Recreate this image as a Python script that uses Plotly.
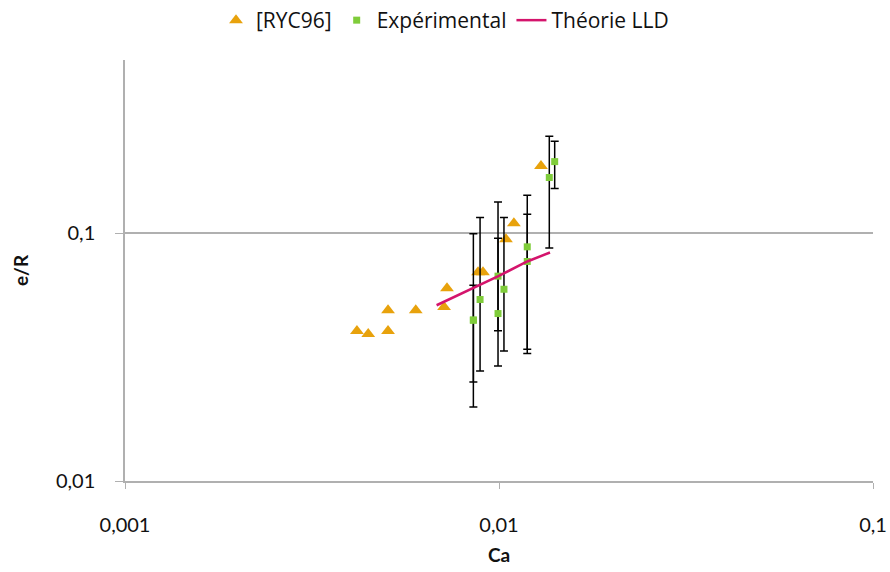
import plotly.graph_objects as go

# [RYC96] data
ryc_ca = [0.00417, 0.00447, 0.00505, 0.00505, 0.00599, 0.00713, 0.00726,
          0.00879, 0.00906, 0.01044, 0.01096, 0.01295]
ryc_er = [0.0403, 0.0392, 0.0489, 0.0403, 0.0489, 0.0504, 0.0600,
          0.0696, 0.0696, 0.0946, 0.1097, 0.1867]

# experimental points with error bar ends (low / high)
exp_ca = [0.00854, 0.00854, 0.00890, 0.00994, 0.00994, 0.01031,
          0.01190, 0.01190, 0.01363, 0.01409]
exp_er = [0.0446, 0.0446, 0.0540, 0.0671, 0.0474, 0.0594,
          0.0881, 0.0769, 0.1678, 0.1945]
exp_lo = [0.0199, 0.0251, 0.0278, 0.0291, 0.0404, 0.0335,
          0.0327, 0.0340, 0.0872, 0.1514]
exp_hi = [0.0994, 0.0617, 0.1157, 0.1337, 0.0954, 0.1157,
          0.1423, 0.1193, 0.2460, 0.2350]

# LLD theory curve
lld_ca = [0.00681, 0.00870, 0.00996, 0.01190, 0.01369]
lld_er = [0.0512, 0.0608, 0.0671, 0.0769, 0.0836]

err_plus = [h - v for h, v in zip(exp_hi, exp_er)]
err_minus = [v - l for v, l in zip(exp_er, exp_lo)]

fig = go.Figure()
fig.add_trace(go.Scatter(
    x=ryc_ca, y=ryc_er, mode="markers", name="[RYC96]",
    marker=dict(symbol="triangle-up", size=12, color="#E8A20C"),
))
fig.add_trace(go.Scatter(
    x=exp_ca, y=exp_er, mode="markers", name="Expérimental",
    marker=dict(symbol="square", size=7, color="#7FCC3A"),
    error_y=dict(type="data", symmetric=False, array=err_plus,
                 arrayminus=err_minus, color="black", thickness=1.5, width=4),
))
fig.add_trace(go.Scatter(
    x=lld_ca, y=lld_er, mode="lines", name="Théorie LLD",
    line=dict(color="#D4146C", width=2.5),
))

fig.update_layout(
    width=890, height=572,
    margin=dict(l=125, r=17, t=60, b=91),
    paper_bgcolor="white", plot_bgcolor="white",
    font=dict(family="Lato", size=20, color="#111"),
    showlegend=True,
    legend=dict(orientation="h", xref="container", yref="container",
                x=0.5, xanchor="center", y=1.0, yanchor="top",
                font=dict(family="Open Sans", size=21, color="#111"),
                itemwidth=30, tracegroupgap=0),
)
fig.update_xaxes(
    type="log", range=[-3, -1], automargin=False,
    tickvals=[0.001, 0.01, 0.1], ticktext=["0,001", "0,01", "0,1"],
    showgrid=False, showline=True, linecolor="#B0B0B0", linewidth=1.5,
    ticks="outside", ticklen=6, tickcolor="#B0B0B0", ticklabelstandoff=19,
    zeroline=False,
    title=dict(text="<b>Ca</b>", font=dict(size=19), standoff=14),
)
fig.update_yaxes(
    type="log", range=[-2, -0.301], automargin=False,
    tickvals=[0.01, 0.1], ticktext=["0,01", "0,1"],
    showgrid=True, gridcolor="#B0B0B0", gridwidth=1.5,
    showline=True, linecolor="#B0B0B0", linewidth=1.5,
    ticks="outside", ticklen=8, tickcolor="#B0B0B0", ticklabelstandoff=16,
    zeroline=False,
    title=dict(text="<b>e/R</b>", font=dict(size=19), standoff=22),
)

# page body has a default margin; drop it so the figure fills the window
fig.write_html("out.html", config={"displayModeBar": False},
               post_script="document.body.style.margin='0';")
